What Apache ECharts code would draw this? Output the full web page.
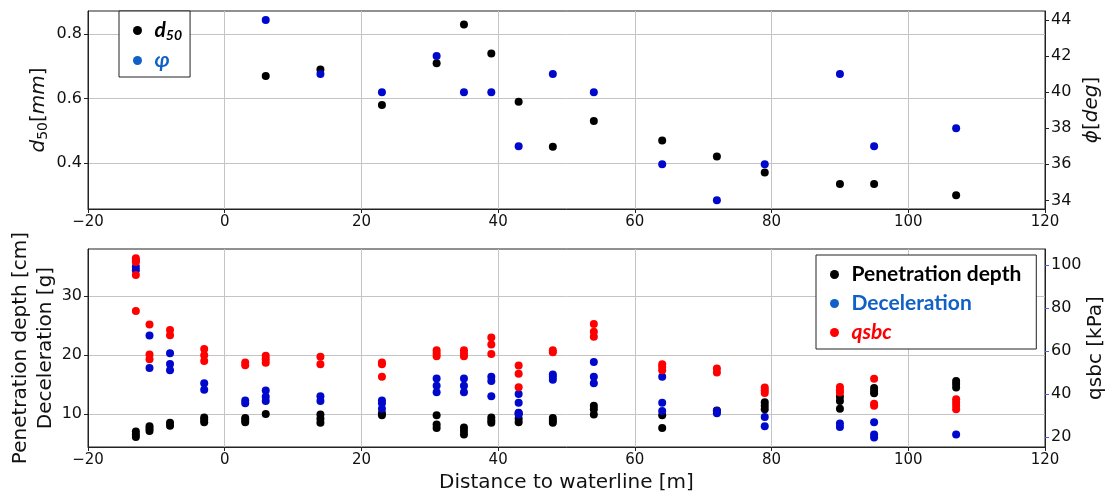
<!DOCTYPE html>
<html>
<head>
<meta charset="utf-8">
<script src="https://cdn.jsdelivr.net/npm/echarts@6/dist/echarts.min.js"></script>
<style>
html,body{margin:0;padding:0;background:#fff;}
#chart{width:1111px;height:496px;}
</style>
</head>
<body>
<div id="chart"></div>
<script>
// ---------- Data ----------
const xTicks = [-20, 0, 20, 40, 60, 80, 100, 120];
const d50Ticks = [0.4, 0.6, 0.8];
const phiTicks = [34, 36, 38, 40, 42, 44];
const leftBottomTicks = [10, 20, 30];
const qsbcTicks = [20, 40, 60, 80, 100];

const siteX = [6, 14, 23, 31, 35, 39, 43, 48, 54, 64, 72, 79, 90, 95, 107];
const d50 = [0.67, 0.69, 0.58, 0.71, 0.83, 0.74, 0.59, 0.45, 0.53, 0.47, 0.42, 0.37, 0.335, 0.335, 0.30];
const phi = [44, 41, 40, 42, 40, 40, 37, 41, 40, 36, 34, 36, 41, 37, 38];

const penetration = [
  [-13, 7.0], [-13, 6.5], [-13, 6.1],
  [-11, 7.9], [-11, 7.5], [-11, 7.1],
  [-8, 8.5], [-8, 8.0],
  [-3, 9.4], [-3, 9.0], [-3, 8.6],
  [3, 9.3], [3, 9.0], [3, 8.6],
  [6, 10.0],
  [14, 9.9], [14, 9.2], [14, 8.5],
  [23, 10.1], [23, 9.8],
  [31, 9.8], [31, 8.2], [31, 7.6],
  [35, 7.7], [35, 7.1], [35, 6.5],
  [39, 9.4], [39, 8.9], [39, 8.5],
  [43, 10.1], [43, 9.2], [43, 8.6],
  [48, 9.3], [48, 8.9], [48, 8.5],
  [54, 11.4], [54, 10.8], [54, 9.9],
  [64, 9.8], [64, 7.6],
  [72, 10.6],
  [79, 12.0], [79, 11.4], [79, 10.8],
  [90, 12.9], [90, 12.2], [90, 10.9],
  [95, 14.4], [95, 13.9], [95, 13.5],
  [107, 15.6], [107, 15.1], [107, 14.5]
];
const deceleration = [
  [-13, 36.0], [-13, 35.0], [-13, 34.4],
  [-11, 23.3], [-11, 17.8],
  [-8, 20.3], [-8, 18.5], [-8, 17.4],
  [-3, 15.2], [-3, 14.1],
  [3, 12.3], [3, 11.8],
  [6, 14.0], [6, 12.9], [6, 12.2],
  [14, 13.0], [14, 12.2],
  [23, 12.3], [23, 11.8], [23, 10.9],
  [31, 16.0], [31, 14.8], [31, 13.7],
  [35, 16.0], [35, 14.8], [35, 13.7],
  [39, 16.3], [39, 15.6], [39, 13.0],
  [43, 13.4], [43, 11.9], [43, 10.2], [43, 9.9],
  [48, 16.7], [48, 16.3], [48, 15.8],
  [54, 18.8], [54, 16.3], [54, 15.2],
  [64, 16.3], [64, 11.9], [64, 10.5],
  [72, 10.5], [72, 10.1],
  [79, 9.5], [79, 7.9],
  [90, 8.4], [90, 7.8],
  [95, 8.6], [95, 6.5], [95, 6.0],
  [107, 6.5]
];
const qsbc = [
  [-13, 103.2], [-13, 101.5], [-13, 95.4], [-13, 78.6],
  [-11, 72.4], [-11, 58.4], [-11, 56.2],
  [-8, 69.8], [-8, 67.4],
  [-3, 60.9], [-3, 58.1], [-3, 55.4],
  [3, 54.7], [3, 53.4],
  [6, 57.8], [6, 56.2], [6, 54.5],
  [14, 57.3], [14, 53.8],
  [23, 54.7], [23, 53.8], [23, 48.0],
  [31, 60.4], [31, 58.9], [31, 57.6],
  [35, 60.4], [35, 58.9], [35, 57.6],
  [39, 66.3], [39, 63.1], [39, 58.6],
  [43, 53.3], [43, 49.4], [43, 43.2],
  [48, 60.4], [48, 59.4],
  [54, 72.6], [54, 69.0], [54, 66.6],
  [64, 53.9], [64, 52.6], [64, 51.1],
  [72, 51.9], [72, 50.0],
  [79, 43.0], [79, 41.8], [79, 40.5],
  [90, 43.3], [90, 41.8], [90, 40.7],
  [95, 47.1], [95, 35.5], [95, 34.5],
  [107, 37.6], [107, 36.1], [107, 34.5], [107, 32.9]
];

// ---------- Chart ----------
const FONT = 'DejaVu Sans';
const LEG_FONT = 'Lato';
const BLACK = '#000000', BLUE = '#0008cc', RED = '#ff0000';
const LEG_BLUE = '#1060c8';
const GRIDC = '#c4c4c4', SPINE = '#222222', LABC = '#111111';

function fmtX(v) { return v < 0 ? '\u2212' + Math.abs(v) : String(v); }

function xAxisCfg(gi, withName) {
  const c = {
    gridIndex: gi, type: 'value', min: -20, max: 120, interval: 20,
    axisLine: { show: true, onZero: false, lineStyle: { color: SPINE, width: 1 } },
    axisTick: { show: true, length: 4, lineStyle: { color: SPINE } },
    axisLabel: { fontFamily: FONT, fontSize: 15, color: LABC, margin: 6, formatter: fmtX },
    splitLine: { show: true, lineStyle: { color: GRIDC, width: 1 } }
  };
  if (withName) {
    c.name = 'Distance to waterline [m]';
    c.nameLocation = 'middle';
    c.nameGap = 26;
    c.nameMoveOverlap = false;
    c.nameTextStyle = { fontFamily: FONT, fontSize: 20, color: LABC };
  }
  return c;
}

function yAxisCfg(gi, pos, min, max, ticks, fmt, grid, tickColor, name, nameGap, nameStyle) {
  return {
    gridIndex: gi, type: 'value', position: pos, min: min, max: max,
    axisLine: { show: true, onZero: false, lineStyle: { color: SPINE, width: 1 } },
    axisTick: { show: true, length: 4, customValues: ticks, lineStyle: { color: tickColor } },
    axisLabel: { customValues: ticks, fontFamily: FONT, fontSize: 16, color: LABC, margin: 6, formatter: fmt },
    splitLine: { show: grid, lineStyle: { color: GRIDC, width: 1 } },
    name: name, nameLocation: 'middle', nameRotate: 90, nameGap: nameGap,
    nameMoveOverlap: false,
    nameTextStyle: nameStyle
  };
}

const chart = echarts.init(document.getElementById('chart'), null, { renderer: 'canvas' });

const gridBase = { left: 88, right: 66, show: true, borderColor: SPINE, borderWidth: 1,
  backgroundColor: 'transparent', containLabel: false, outerBoundsMode: 'none' };

const option = {
  animation: false,
  backgroundColor: '#ffffff',
  grid: [
    Object.assign({}, gridBase, { top: 11, height: 198 }),
    Object.assign({}, gridBase, { top: 249, height: 198 })
  ],
  xAxis: [xAxisCfg(0, false), xAxisCfg(1, true)],
  yAxis: [
    yAxisCfg(0, 'left', 0.257, 0.872, d50Ticks, v => v.toFixed(1), true, SPINE,
      '{i|d}{s|50}{n|[}{i|mm}{n|]}', 38,
      { fontFamily: FONT, fontSize: 20, color: LABC,
        rich: { i: { fontFamily: FONT, fontStyle: 'italic', fontSize: 20, color: LABC },
                s: { fontFamily: FONT, fontSize: 14, color: LABC, padding: [9, 0, 0, 0] },
                n: { fontFamily: FONT, fontSize: 20, color: LABC } } }),
    yAxisCfg(0, 'right', 33.52, 44.5, phiTicks, v => String(v), false, SPINE,
      '{i|\u03D5}{n|[}{i|deg}{n|]}', 37,
      { fontFamily: FONT, fontSize: 20, color: LABC,
        rich: { i: { fontFamily: FONT, fontStyle: 'italic', fontSize: 20, color: LABC },
                n: { fontFamily: FONT, fontSize: 20, color: LABC } } }),
    yAxisCfg(1, 'left', 4.39, 38.0, leftBottomTicks, v => String(v), true, SPINE,
      'Penetration depth [cm]\nDeceleration [g]', 30,
      { fontFamily: FONT, fontSize: 20, color: LABC, lineHeight: 25 }),
    yAxisCfg(1, 'right', 15.34, 107.5, qsbcTicks, v => String(v), false, '#4a5cff',
      'qsbc [kPa]', 41,
      { fontFamily: FONT, fontSize: 20, color: LABC })
  ],
  legend: [
    {
      orient: 'vertical', left: 119, top: 11,
      padding: [9, 8, 6, 14], itemGap: 8, itemWidth: 12, itemHeight: 9,
      backgroundColor: '#ffffff', borderColor: SPINE, borderWidth: 1, borderRadius: 0,
      data: [
        { name: 'd50', icon: 'circle', itemStyle: { color: BLACK, opacity: 1 } },
        { name: 'phi', icon: 'circle', itemStyle: { color: LEG_BLUE, opacity: 1 } }
      ],
      formatter: function (n) { return n === 'd50' ? '{dk|d}{ds|50}' : '{ph|\u03C6}'; },
      textStyle: {
        rich: {
          dk: { fontFamily: LEG_FONT, fontWeight: 'bold', fontStyle: 'italic', fontSize: 21, color: BLACK, padding: [0, 0, 0, 6] },
          ds: { fontFamily: LEG_FONT, fontWeight: 'bold', fontStyle: 'italic', fontSize: 14, color: BLACK, padding: [9, 0, 0, 0] },
          ph: { fontFamily: LEG_FONT, fontWeight: 'bold', fontStyle: 'italic', fontSize: 21, color: LEG_BLUE, padding: [0, 0, 0, 6] }
        }
      }
    },
    {
      orient: 'vertical', left: 816, top: 255,
      padding: [9, 15, 6, 14], itemGap: 8, itemWidth: 12, itemHeight: 9,
      backgroundColor: '#ffffff', borderColor: SPINE, borderWidth: 1, borderRadius: 0,
      data: [
        { name: 'Penetration depth', icon: 'circle', itemStyle: { color: BLACK, opacity: 1 } },
        { name: 'Deceleration', icon: 'circle', itemStyle: { color: LEG_BLUE, opacity: 1 } },
        { name: 'qsbc', icon: 'circle', itemStyle: { color: RED, opacity: 1 } }
      ],
      formatter: function (n) {
        if (n === 'Penetration depth') return '{pd|Penetration depth}';
        if (n === 'Deceleration') return '{de|Deceleration}';
        return '{qs|qsbc}';
      },
      textStyle: {
        rich: {
          pd: { fontFamily: LEG_FONT, fontWeight: 'bold', fontSize: 21, color: BLACK, padding: [0, 0, 0, 6] },
          de: { fontFamily: LEG_FONT, fontWeight: 'bold', fontSize: 21, color: LEG_BLUE, padding: [0, 0, 0, 6] },
          qs: { fontFamily: LEG_FONT, fontWeight: 'bold', fontStyle: 'italic', fontSize: 21, color: RED, padding: [0, 0, 0, 6] }
        }
      }
    }
  ],
  series: [
    { name: 'd50', type: 'scatter', xAxisIndex: 0, yAxisIndex: 0, symbol: 'circle', symbolSize: 8,
      itemStyle: { color: BLACK, opacity: 1 }, data: siteX.map((x, i) => [x, d50[i]]) },
    { name: 'phi', type: 'scatter', xAxisIndex: 0, yAxisIndex: 1, symbol: 'circle', symbolSize: 8,
      itemStyle: { color: BLUE, opacity: 1 }, data: siteX.map((x, i) => [x, phi[i]]) },
    { name: 'Penetration depth', type: 'scatter', xAxisIndex: 1, yAxisIndex: 2, symbol: 'circle', symbolSize: 8,
      itemStyle: { color: BLACK, opacity: 1 }, data: penetration },
    { name: 'Deceleration', type: 'scatter', xAxisIndex: 1, yAxisIndex: 2, symbol: 'circle', symbolSize: 8,
      itemStyle: { color: BLUE, opacity: 1 }, data: deceleration },
    { name: 'qsbc', type: 'scatter', xAxisIndex: 1, yAxisIndex: 3, symbol: 'circle', symbolSize: 8,
      itemStyle: { color: RED, opacity: 1 }, data: qsbc }
  ]
};
chart.setOption(option);
</script>
</body>
</html>
